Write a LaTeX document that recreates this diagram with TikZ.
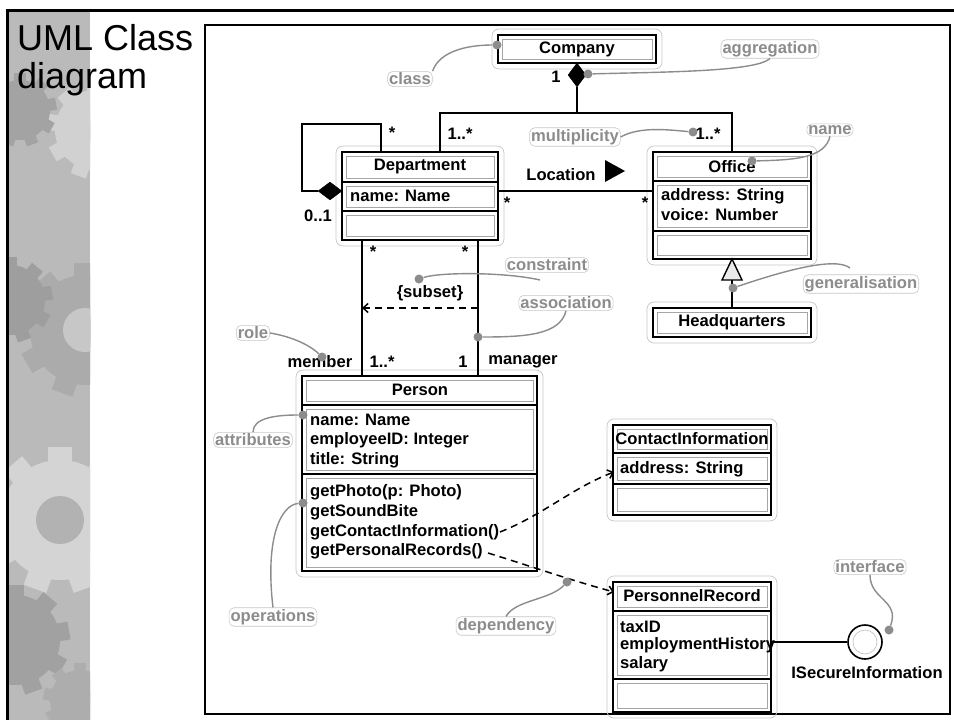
\documentclass[tikz,border=0pt]{standalone}
\usepackage{fontspec}
\setmainfont{Liberation Sans}
\usetikzlibrary{arrows.meta,shapes.geometric,fit}
\tikzset{
 box/.style={draw=black, line width=1.6pt, fill=white, inner sep=0pt},
 halo/.style={draw=black!22, line width=0.7pt, rounded corners=7pt},
 inbox/.style={draw=black!35, line width=0.5pt},
 ctext/.style={font=\fontsize{16.6}{18}\selectfont\bfseries, inner sep=1pt, text=black},
 note/.style={font=\fontsize{16.6}{18}\selectfont\bfseries, text=black!45, draw=black!22, line width=0.6pt, rounded corners=5pt, inner sep=1.5pt, fill=white},
 noteline/.style={draw=black!45, line width=1.4pt},
 notedot/.style={circle, fill=black!45, inner sep=0pt, minimum size=9pt},
 conn/.style={line width=1.5pt, draw=black},
 dep/.style={conn, dash pattern=on 7pt off 5pt, -{Straight Barb[length=5pt,width=9pt]}},
 titletext/.style={font=\fontsize{36}{38}\selectfont, anchor=base west, inner sep=0pt},
}
\newcommand\umlbox[5]{%
 \draw[halo] (#2-6,#3-6) rectangle (#4+6,#5+6);
 \node[box, fit={(#2,#3) (#4,#5)}] (#1) {};
}
\newcommand\comp[4]{\draw[inbox] (#1+4,#2+4) rectangle (#3-4,#4-4);}
\newcommand\compline[3]{\draw[line width=1.6pt] (#1,#3) -- (#2,#3);}
\newcommand\mygear[4]{%
 \fill[#4] (#1,#2) circle (#3);
 \foreach \a in {0,40,...,320} {\fill[#4, rotate around={\a:(#1,#2)}] (#1-#3*0.2,#2-#3*1.22) rectangle (#1+#3*0.2,#2);}
}
\begin{document}
\begin{tikzpicture}[x=1pt,y=-1pt]
\useasboundingbox (0,0) rectangle (954,720);
\fill[white] (0,0) rectangle (954,720);

% decorative strip
\begin{scope}
\clip (8.5,11.5) rectangle (90,720);
\fill[black!27] (0,0) rectangle (90,720);
\mygear{95}{130}{40}{black!18}
\mygear{20}{110}{30}{black!36}
\mygear{85}{330}{55}{black!33}
\fill[black!22] (85,330) circle (22);
\mygear{10}{300}{35}{black!38}
\mygear{60}{520}{60}{black!17}
\fill[black!30] (60,520) circle (24);
\mygear{15}{640}{45}{black!37}
\mygear{80}{700}{30}{black!32}
\end{scope}
\draw[line width=3pt] (7,720) -- (7,10) -- (954,10);

\node[titletext] (title1) at (17,50) {UML Class};
\node[titletext] (title2) at (17,88) {diagram};

% inner frame
\draw[line width=1.4pt] (205,25) rectangle (950,714);

% ---------------- classes
\umlbox{company}{498}{35}{656}{63}
\comp{498}{35}{656}{63}
\node[ctext] (companyt) at (577,49) {Company};

\umlbox{dept}{342}{152}{498}{240}
\compline{342}{498}{182}\compline{342}{498}{211}
\comp{342}{152}{498}{182}\comp{342}{182}{498}{211}\comp{342}{211}{498}{240}
\node[ctext] (deptt) at (420,167) {Department};
\node[ctext, anchor=west] (depta) at (349,196) {name: Name};

\umlbox{office}{653}{152}{811}{259}
\compline{653}{811}{181}\compline{653}{811}{231}
\comp{653}{152}{811}{181}\comp{653}{181}{811}{231}\comp{653}{231}{811}{259}
\node[ctext] (officet) at (732,167) {Office};
\node[ctext, anchor=west] (officea1) at (660,196) {address: String};
\node[ctext, anchor=west] (officea2) at (660,215) {voice: Number};

\umlbox{hq}{653}{308}{811}{337}
\comp{653}{308}{811}{337}
\node[ctext] (hqt) at (732,322) {Headquarters};

\umlbox{person}{302}{376}{537}{571}
\compline{302}{537}{405}\compline{302}{537}{474}
\comp{302}{376}{537}{405}\comp{302}{405}{537}{474}\comp{302}{474}{537}{571}
\node[ctext] (persont) at (420,390) {Person};
\node[ctext, anchor=west] (pa1) at (309,420) {name: Name};
\node[ctext, anchor=west] (pa2) at (309,440) {employeeID: Integer};
\node[ctext, anchor=west] (pa3) at (309,460) {title: String};
\node[ctext, anchor=west] (po1) at (309,492) {getPhoto(p: Photo)};
\node[ctext, anchor=west] (po2) at (309,512) {getSoundBite};
\node[ctext, anchor=west] (po3) at (309,532) {getContactInformation()};
\node[ctext, anchor=west] (po4) at (309,551) {getPersonalRecords()};

\umlbox{ci}{613}{425}{771}{515}
\compline{613}{771}{453}\compline{613}{771}{484}
\comp{613}{425}{771}{453}\comp{613}{453}{771}{484}\comp{613}{484}{771}{515}
\node[ctext] (cit) at (692,439) {ContactInformation};
\node[ctext, anchor=west] (cia) at (619,469) {address: String};

\umlbox{pr}{613}{582}{771}{712}
\compline{613}{771}{611}\compline{613}{771}{679}
\comp{613}{582}{771}{611}\comp{613}{611}{771}{679}\comp{613}{679}{771}{712}
\node[ctext] (prt) at (692,596) {PersonnelRecord};
\node[ctext, anchor=west] (pra1) at (619,627) {taxID};
\node[ctext, anchor=west] (pra2) at (619,645) {employmentHistory};
\node[ctext, anchor=west] (pra3) at (619,664) {salary};

% ---------------- connectors
% composition Company -> Department/Office
\node[diamond, fill=black, draw=black, inner sep=0pt, minimum width=18pt, minimum height=24pt] (cdiam) at (577,75) {};
\coordinate (jn) at (577,113);
\coordinate (jl) at (440,113);
\coordinate (jr) at (732,113);
\draw[conn] (cdiam.south) -- (jn);
\draw[conn] (dept.north -| jl) -- (jl) -- (jr) -- (office.north -| jr);

% self association of Department
\node[diamond, fill=black, draw=black, inner sep=0pt, minimum width=24pt, minimum height=18pt] (sdiam) at (330,191) {};
\coordinate (sl1) at (302,191);
\coordinate (sl2) at (302,124);
\coordinate (sl3) at (381,124);
\draw[conn] (sdiam.west) -- (sl1) -- (sl2) -- (sl3) -- (dept.north -| sl3);

% Location association
\coordinate (locy) at (576,191);
\draw[conn] (dept.east |- locy) -- (office.west |- locy);
\node[ctext] (loclbl) at (561,175) {Location};
\fill (605,160) -- (625,171) -- (605,182) -- cycle;

% generalisation
\coordinate (gtip) at (732,259);
\coordinate (gbase) at (732,280);
\filldraw[fill=black!8, draw=black, line width=1.4pt, line join=miter] (gtip) -- (742,280) -- (722,280) -- cycle;
\draw[conn] (gbase) -- (hq.north);

% Department - Person associations
\coordinate (al) at (362,300);
\coordinate (ar) at (478,300);
\draw[conn] (dept.south -| al) -- (person.north -| al);
\draw[conn] (dept.south -| ar) -- (person.north -| ar);
\coordinate (sr) at (478,308);
\coordinate (sl) at (362,308);
\draw[conn, dash pattern=on 7pt off 5pt, -{Straight Barb[length=5pt,width=9pt]}] (sr) -- (sl);
\node[ctext] (subset) at (430,293) {\{subset\}};

% dependencies
\coordinate (d1s) at (500,532);
\coordinate (d1e) at (614,472);
\draw[dep] (d1s) .. controls (543,515) and (572,488) .. (d1e);
\coordinate (d2s) at (488,553);
\coordinate (d2e) at (614,592);
\draw[dep] (d2s) .. controls (530,566) and (570,580) .. (d2e);

% interface
\node[circle, draw=black, line width=1.6pt, minimum size=34pt, inner sep=0pt] (iface) at (865,642) {};
\draw[black!25, line width=0.6pt] (iface.center) circle (12);
\draw[conn] (pr.east |- iface.west) -- (iface.west);
\node[ctext] (ifacet) at (867,673) {ISecureInformation};

% multiplicities and roles
\node[ctext] (m1) at (556,77) {1};
\node[ctext] (m2) at (460,134) {1..*};
\node[ctext] (m3) at (708,134) {1..*};
\node[ctext] (m4) at (392,133) {*};
\node[ctext] (m5) at (318,216) {0..1};
\node[ctext] (m6) at (507,203) {*};
\node[ctext] (m7) at (645,203) {*};
\node[ctext] (m8) at (373,252) {*};
\node[ctext] (m9) at (465,252) {*};
\node[ctext] (member) at (320,362) {member};
\node[ctext] (m10) at (382,362) {1..*};
\node[ctext] (m11) at (463,362) {1};
\node[ctext] (manager) at (523,362) {manager};

% ---------------- annotations
\node[note] (n-class) at (410,79) {class};
\node[notedot] (d-class) at (497,45) {};
\draw[noteline] (n-class.north east) .. controls (440,50) and (470,45) .. (d-class);

\node[note] (n-agg) at (770,49) {aggregation};
\node[notedot] (d-agg) at (588,74) {};
\draw[noteline] (d-agg) .. controls (660,72) and (755,72) .. (n-agg.south);

\node[note] (n-mult) at (575,137) {multiplicity};
\node[notedot] (d-mult) at (693,132) {};
\draw[noteline] (n-mult.east) .. controls (640,126) and (670,130) .. (d-mult);

\node[note] (n-name) at (830,130) {name};
\node[notedot] (d-name) at (752,161) {};
\draw[noteline] (d-name) .. controls (795,160) and (825,158) .. (n-name.south);

\node[note] (n-gen) at (861,284) {generalisation};
\node[notedot] (d-gen) at (733,288) {};
\draw[noteline] (d-gen) .. controls (780,272) and (835,256) .. (850,268);

\node[note] (n-con) at (547,265) {constraint};
\node[notedot] (d-con) at (419,279) {};
\draw[noteline] (d-con) .. controls (440,272) and (505,272) .. (540,280);

\node[note] (n-assoc) at (566,303) {association};
\node[notedot] (d-assoc) at (478,337) {};
\draw[noteline] (d-assoc) .. controls (525,337) and (560,335) .. (n-assoc.south);

\node[note] (n-role) at (253,333) {role};
\node[notedot] (d-role) at (322,357) {};
\draw[noteline] (n-role.east) .. controls (300,338) and (315,350) .. (d-role);

\node[note] (n-attr) at (253,440) {attributes};
\node[notedot] (d-attr) at (303,415) {};
\draw[noteline] (n-attr.north) .. controls (253,418) and (275,415) .. (d-attr);

\node[note] (n-ops) at (273,617) {operations};
\node[notedot] (d-ops) at (303,503) {};
\draw[noteline] (n-ops.north) .. controls (265,540) and (280,505) .. (d-ops);

\node[note] (n-dep) at (506,626) {dependency};
\node[notedot] (d-dep) at (567,582) {};
\draw[noteline] (n-dep.north) .. controls (515,600) and (550,600) .. (d-dep);

\node[note] (n-iface) at (870,567) {interface};
\node[notedot] (d-iface) at (889,630) {};
\draw[noteline] (n-iface.south) .. controls (870,600) and (900,600) .. (d-iface);
\end{tikzpicture}
\end{document}
